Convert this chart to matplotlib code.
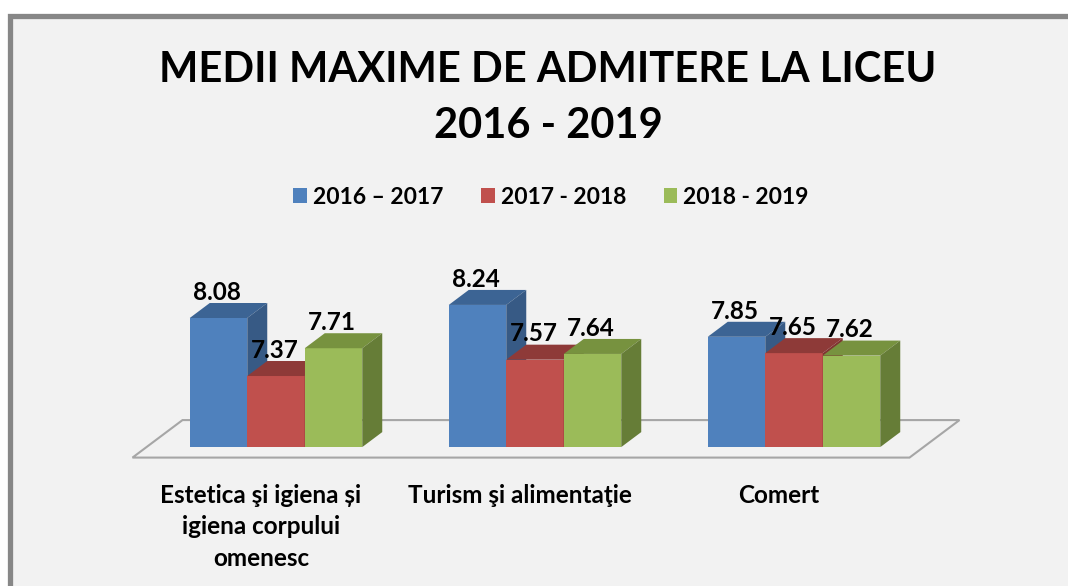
import numpy as np
import matplotlib
matplotlib.use('Agg')
import matplotlib.pyplot as plt
from matplotlib.patches import Polygon, Rectangle

# date
categorii = ['Estetica şi igiena și\nigiena corpului\nomenesc',
             'Turism şi alimentaţie',
             'Comert']
serii = ['2016 – 2017', '2017 - 2018', '2018 - 2019']
medii_2016_2017 = [8.08, 8.24, 7.85]
medii_2017_2018 = [7.37, 7.57, 7.65]
medii_2018_2019 = [7.71, 7.64, 7.62]
valori = [medii_2016_2017, medii_2017_2018, medii_2018_2019]

plt.rcParams['font.family'] = ['Lato', 'DejaVu Sans']
plt.rcParams['font.weight'] = 'bold'

culori_fata = ['#4f81bd', '#c0504d', '#9bbb59']
culori_sus = ['#3c6494', '#8e3a38', '#77923f']
culori_lat = ['#375a85', '#7f3431', '#667d37']

fig = plt.figure(figsize=(10.68, 5.86), dpi=100)
fig.patch.set_facecolor('white')

# chenarul graficului
fig.patches.append(Rectangle((10 / 1068, -0.2), 1.2, 1.2 - 16 / 586,
                             transform=fig.transFigure, facecolor='#f2f2f2',
                             edgecolor='#878787', linewidth=3.8, zorder=-5))

ax = fig.add_axes([0, 0, 1, 1])
ax.set_zorder(1)
ax.set_xlim(1 - 535 / 259, 1 + 533 / 259)
ax.set_ylim(8.08 - 268 / 81.7, 8.08 + 318 / 81.7)
ax.axis('off')
ax.patch.set_alpha(0)

baza = 6.5
w = 0.222
dx = 20 / 259   # adancimea 3D
dy = 15 / 81.7
x = np.arange(len(categorii))

# podeaua
fx0, fx1 = -0.5, 2.5
podea = [(fx0 - 0.7 * dx, baza - 0.7 * dy), (fx1 - 0.7 * dx, baza - 0.7 * dy),
         (fx1 + 1.8 * dx, baza + 1.8 * dy), (fx0 + 1.8 * dx, baza + 1.8 * dy)]
ax.add_patch(Polygon(podea, closed=True, facecolor='#f2f2f2',
                     edgecolor='#a6a6a6', linewidth=1.5, zorder=1))

z = 2
for i in range(len(categorii)):
    for s in range(len(serii)):
        v = valori[s][i]
        xc = x[i] + (s - 1) * w
        x0, x1 = xc - w / 2, xc + w / 2
        ax.bar(xc, v - baza, width=w, bottom=baza, color=culori_fata[s],
               edgecolor='none', zorder=z,
               label=serii[s] if i == 0 else None)
        sus = [(x0, v), (x1, v), (x1 + dx, v + dy), (x0 + dx, v + dy)]
        lat = [(x1, baza), (x1 + dx, baza + dy), (x1 + dx, v + dy), (x1, v)]
        ax.add_patch(Polygon(sus, closed=True, facecolor=culori_sus[s],
                             edgecolor='none', zorder=z))
        ax.add_patch(Polygon(lat, closed=True, facecolor=culori_lat[s],
                             edgecolor='none', zorder=z))
        z += 1

# etichete valori
for i in range(len(categorii)):
    for s in range(len(serii)):
        v = valori[s][i]
        xc = x[i] + (s - 1) * w
        ax.text(xc - 0.005, v + dy + 0.04, f'{v:.2f}', ha='center', va='baseline',
                fontsize=17.5, fontweight='bold', color='black', zorder=50)

# etichete categorii
for i, c in enumerate(categorii):
    ax.text(x[i] - 0.058, 6.05, c, ha='center', va='top', fontsize=17.5,
            fontweight='bold', linespacing=1.45, color='black', zorder=50)

fig.text(548 / 1068, 1 - 70 / 586, 'MEDII MAXIME DE ADMITERE LA LICEU',
         ha='center', va='center', fontsize=30, fontweight='bold')
fig.text(548 / 1068, 1 - 126 / 586, '2016 - 2019',
         ha='center', va='center', fontsize=30, fontweight='bold')

fig.legend(loc='center', bbox_to_anchor=(551 / 1068, 1 - 197 / 586), ncol=3,
           frameon=False, fontsize=16.5, handlelength=0.6, handleheight=0.6,
           handletextpad=0.25, columnspacing=1.65)

fig.savefig('out.png', dpi=100)
